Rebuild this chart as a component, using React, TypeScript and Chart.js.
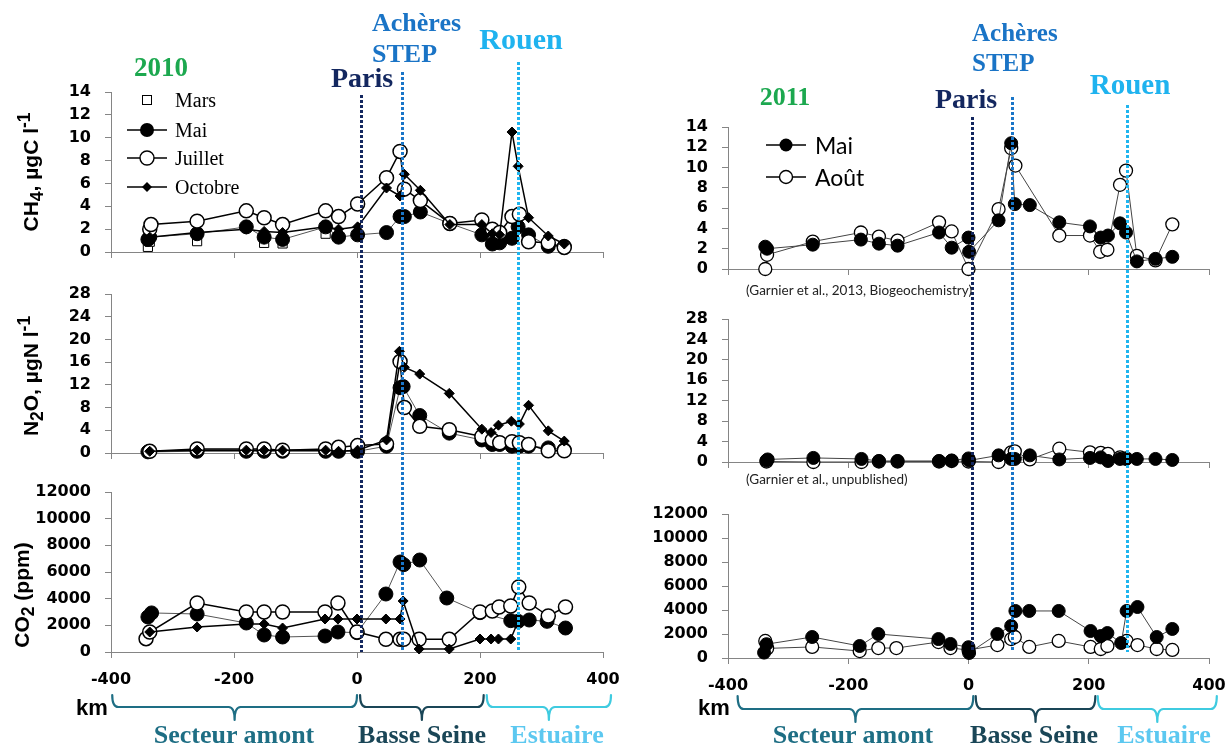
import React, { useEffect, useRef } from 'react';
import { Chart, registerables } from 'chart.js';

Chart.register(...registerables);

type Pt = [number, number];

// ---------------- 2010 (km, value) ----------------
const ch4_2010_mars: Pt[] = [[-340, 0.45], [-337, 0.9], [-260, 0.95], [-151, 0.8], [-121, 0.75], [-51, 1.6]];
const ch4_2010_mai: Pt[] = [[-340, 1.1], [-337, 1.3], [-260, 1.6], [-180, 2.2], [-151, 1.3], [-121, 1.1], [-51, 2.2], [-30, 1.3], [1, 1.5], [48, 1.7], [70, 3.1], [77, 3.1], [103, 3.5], [151, 2.5], [203, 1.5], [220, 0.7], [232, 0.8], [252, 1.2], [262, 2.2], [279, 1.5], [311, 0.5], [337, 0.5]];
const ch4_2010_juillet: Pt[] = [[-337, 2.0], [-335, 2.4], [-260, 2.7], [-180, 3.6], [-151, 3.0], [-121, 2.4], [-51, 3.6], [-30, 3.1], [1, 4.2], [48, 6.5], [70, 8.8], [77, 5.5], [103, 4.5], [151, 2.5], [203, 2.8], [220, 2.0], [232, 1.7], [252, 3.1], [264, 3.3], [279, 0.9], [311, 0.8], [337, 0.4]];
const ch4_2010_octobre: Pt[] = [[-337, 1.3], [-260, 1.7], [-180, 2.0], [-151, 1.8], [-121, 1.7], [-51, 2.2], [-30, 2.0], [1, 2.2], [48, 5.6], [70, 4.9], [77, 6.8], [103, 5.4], [151, 2.4], [203, 2.4], [220, 1.6], [232, 1.5], [252, 10.5], [262, 7.5], [279, 3.0], [311, 1.4], [337, 0.7]];

const n2o_2010_mai: Pt[] = [[-340, 0.2], [-260, 0.3], [-180, 0.3], [-151, 0.3], [-121, 0.3], [-51, 0.3], [-30, 0.3], [1, 0.3], [48, 1.2], [70, 11.5], [75, 11.7], [102, 6.6], [150, 3.5], [203, 2.3], [220, 1.5], [232, 1.5], [252, 1.2], [264, 1.2], [279, 1.2], [311, 0.9], [337, 0.6]];
const n2o_2010_juillet: Pt[] = [[-337, 0.3], [-260, 0.7], [-180, 0.7], [-151, 0.7], [-121, 0.5], [-51, 0.7], [-30, 1.0], [1, 1.3], [48, 1.6], [70, 16.1], [77, 8.0], [102, 4.7], [150, 4.1], [203, 2.9], [220, 2.3], [232, 1.8], [252, 2.0], [264, 1.8], [279, 1.5], [311, 0.4], [337, 0.4]];
const n2o_2010_octobre: Pt[] = [[-337, 0.3], [-260, 0.5], [-180, 0.5], [-151, 0.5], [-121, 0.5], [-51, 0.5], [-30, 0.3], [1, 0.5], [48, 2.3], [69, 17.9], [77, 15.1], [102, 13.9], [150, 10.5], [203, 4.2], [218, 3.6], [230, 4.9], [251, 5.6], [264, 5.1], [279, 8.4], [311, 3.9], [337, 2.1]];

const co2_2010_mai: Pt[] = [[-340, 2630], [-334, 2930], [-260, 2850], [-180, 2175], [-151, 1275], [-121, 1125], [-52, 1200], [-31, 1500], [0, 1450], [47, 4350], [70, 6750], [76, 6550], [102, 6900], [146, 4050], [200, 2950], [250, 2350], [262, 2300], [280, 2400], [309, 2300], [339, 1800]];
const co2_2010_juillet: Pt[] = [[-343, 1000], [-337, 1500], [-260, 3675], [-180, 3000], [-151, 3000], [-121, 3000], [-52, 3000], [-31, 3675], [0, 1500], [47, 950], [70, 950], [76, 950], [101, 950], [150, 950], [200, 3000], [220, 3075], [231, 3375], [250, 3450], [263, 4875], [280, 3675], [311, 2700], [339, 3375]];
const co2_2010_octobre: Pt[] = [[-337, 1500], [-260, 1875], [-180, 2100], [-151, 2100], [-121, 1800], [-52, 2475], [-31, 2475], [0, 2475], [47, 2475], [70, 2475], [75, 3825], [101, 225], [150, 225], [200, 975], [218, 975], [230, 975], [250, 975], [262, 2300]];

// ---------------- 2011 (km, value) ----------------
const ch4_2011_mai: Pt[] = [[-338, 2.2], [-335, 2.0], [-259, 2.4], [-179, 2.9], [-149, 2.5], [-118, 2.3], [-49, 3.6], [-28, 2.1], [0, 3.1], [1, 1.7], [50, 4.8], [71, 12.4], [77, 6.4], [102, 6.3], [151, 4.6], [202, 4.2], [220, 3.1], [232, 3.3], [252, 4.5], [262, 3.6], [280, 0.75], [311, 1.0], [339, 1.2]];
const ch4_2011_aout: Pt[] = [[-338, 0], [-335, 1.4], [-259, 2.7], [-179, 3.6], [-149, 3.2], [-118, 2.8], [-49, 4.6], [-28, 3.7], [0, 0], [50, 5.9], [71, 11.9], [78, 10.2], [151, 3.3], [202, 3.3], [219, 1.7], [231, 1.9], [252, 8.3], [262, 9.7], [280, 1.3], [311, 0.85], [339, 4.4]];

const n2o_2011_mai: Pt[] = [[-336, 0.3], [-334, 0.5], [-258, 0.8], [-178, 0.6], [-149, 0.2], [-118, 0.2], [-49, 0.2], [-28, 0.3], [0, 0.7], [1, 0.3], [50, 1.3], [71, 0.6], [77, 0.6], [102, 1.3], [151, 0.5], [202, 0.8], [220, 0.9], [232, 0.2], [252, 0.6], [262, 0.6], [280, 0.6], [311, 0.6], [339, 0.4]];
const n2o_2011_aout: Pt[] = [[-336, 0.1], [-258, 0], [-178, 0], [-149, 0.1], [-118, 0.1], [-49, 0.1], [-28, 0.2], [0, 0.1], [50, 0], [71, 1.9], [77, 2.1], [102, 0.5], [151, 2.6], [202, 1.9], [220, 1.8], [232, 1.6], [252, 0.9], [262, 0.7]];

const co2_2011_mai: Pt[] = [[-340, 450], [-336, 1150], [-260, 1750], [-181, 1000], [-150, 2000], [-50, 1580], [-30, 1170], [0, 900], [1, 420], [48, 2000], [71, 2670], [78, 3920], [101, 3920], [150, 3920], [203, 2250], [220, 1830], [231, 2080], [254, 1250], [263, 3920], [281, 4250], [313, 1750], [339, 2420]];
const co2_2011_aout: Pt[] = [[-338, 1420], [-335, 800], [-260, 920], [-181, 580], [-150, 830], [-120, 830], [-50, 1330], [-30, 830], [0, 670], [48, 1080], [71, 1580], [77, 1750], [101, 920], [150, 1420], [203, 920], [220, 750], [231, 1000], [263, 1420], [281, 1080], [313, 750], [339, 670]];

// ---------------- axes / annotations ----------------
const xRange = { min: -400, max: 400, step: 200 };
const ch4Axis = { max: 14, step: 2 };
const n2oAxis = { max: 28, step: 4 };
const co2Axis = { max: 12000, step: 2000 };

const siteKm2010 = [7, 73, 262]; // Paris, Achères STEP, Rouen
const siteKm2011 = [5, 72, 263];
const sectors2010: Pt[] = [[-398, 0], [5, 206], [211, 413]];
const sectors2011: Pt[] = [[-384, 8], [12, 211], [215, 413]];

const SITE_COLORS = ['#13275f', '#1a76c8', '#1fb5ef'];
const SECTOR_COLORS = ['#1e6e84', '#1a4657', '#3fcbe0'];
const AXIS_COLOR = '#858585';

const xy = (pts: Pt[]) => pts.map(([x, y]) => ({ x, y }));

const base = { showLine: true, clip: false as any };
const sJuillet = { ...base, borderColor: '#000', borderWidth: 1.5, pointStyle: 'circle', pointRadius: 7, pointBackgroundColor: '#fff', pointBorderColor: '#000', pointBorderWidth: 1.5 };
const sMai = { ...base, borderColor: '#555', borderWidth: 1, pointStyle: 'circle', pointRadius: 7, pointBackgroundColor: '#000', pointBorderColor: '#000', pointBorderWidth: 1 };
const sOct = { ...base, borderColor: '#000', borderWidth: 1.5, pointStyle: 'rectRot', pointRadius: 5, pointBackgroundColor: '#000', pointBorderColor: '#000', pointBorderWidth: 1 };
const sMars = { showLine: false, clip: false as any, pointStyle: 'rect', pointRadius: 6.5, pointBackgroundColor: '#fff', pointBorderColor: '#000', pointBorderWidth: 1 };
const sMai11 = { ...base, borderColor: '#444', borderWidth: 1, pointStyle: 'circle', pointRadius: 6.5, pointBackgroundColor: '#000', pointBorderColor: '#000', pointBorderWidth: 1 };
const sAout = { ...base, borderColor: '#444', borderWidth: 1, pointStyle: 'circle', pointRadius: 6.5, pointBackgroundColor: '#fff', pointBorderColor: '#000', pointBorderWidth: 1.3 };

const tickFont = { family: 'DejaVu Sans', weight: 'bold' as any, size: 16 };
const YW = 100;
const XH = 40;
const H = 744;

function sitePlugin(kms: number[], tops: number[], bottom: number, sectors: Pt[], brace: { top: number; mid: number; tip: number }) {
  return {
    id: 'sitesAndSectors',
    afterDraw(chart: any) {
      const xs = chart.scales.x;
      const ctx = chart.ctx as CanvasRenderingContext2D;
      ctx.save();
      kms.forEach((km, i) => {
        const px = Math.round(xs.getPixelForValue(km)) + 0.5;
        ctx.strokeStyle = SITE_COLORS[i];
        ctx.lineWidth = 3;
        ctx.setLineDash([3, 2]);
        ctx.beginPath();
        ctx.moveTo(px, tops[i]);
        ctx.lineTo(px, bottom);
        ctx.stroke();
      });
      ctx.setLineDash([]);
      ctx.lineWidth = 2.2;
      ctx.lineJoin = 'round';
      ctx.lineCap = 'round';
      sectors.forEach(([a, b], i) => {
        const x1 = xs.getPixelForValue(a);
        const x2 = xs.getPixelForValue(b);
        const xc = (x1 + x2) / 2;
        const r = 6;
        ctx.strokeStyle = SECTOR_COLORS[i];
        ctx.beginPath();
        ctx.moveTo(x1, brace.top);
        ctx.quadraticCurveTo(x1, brace.mid, x1 + r, brace.mid);
        ctx.lineTo(xc - r, brace.mid);
        ctx.quadraticCurveTo(xc, brace.mid, xc, brace.tip);
        ctx.moveTo(xc, brace.tip);
        ctx.quadraticCurveTo(xc, brace.mid, xc + r, brace.mid);
        ctx.lineTo(x2 - r, brace.mid);
        ctx.quadraticCurveTo(x2, brace.mid, x2, brace.top);
        ctx.stroke();
      });
      ctx.restore();
    },
  };
}

type PanelProps = {
  left: number;
  width: number;
  area: { l: number; r: number; t: number; b: number };
  axis: { max: number; step: number };
  datasets: any[];
  xLabels: boolean;
  overlay?: any;
};

function Panel({ left, width, area, axis, datasets, xLabels, overlay }: PanelProps) {
  const ref = useRef<HTMLCanvasElement>(null);
  useEffect(() => {
    const grid = { drawOnChartArea: false, drawTicks: true, tickLength: 6, color: AXIS_COLOR, lineWidth: 1 };
    const border = { display: true, color: AXIS_COLOR, width: 1 };
    const chart = new Chart(ref.current as HTMLCanvasElement, {
      type: 'scatter',
      data: { datasets },
      options: {
        responsive: false,
        animation: false,
        devicePixelRatio: 1,
        events: [],
        layout: {
          padding: {
            left: area.l - left - YW,
            right: left + width - area.r,
            top: area.t,
            bottom: H - area.b - XH,
          },
        },
        plugins: { legend: { display: false }, tooltip: { enabled: false } },
        scales: {
          x: {
            type: 'linear',
            min: xRange.min,
            max: xRange.max,
            ticks: {
              stepSize: xRange.step,
              display: xLabels,
              padding: 12,
              color: '#000',
              font: tickFont,
              maxRotation: 0,
              autoSkip: false,
              callback: (v: any) => String(v),
            },
            grid,
            border,
            afterFit: (s: any) => {
              s.height = XH;
              s.paddingLeft = 0;
              s.paddingRight = 0;
            },
          },
          y: {
            type: 'linear',
            min: 0,
            max: axis.max,
            ticks: {
              stepSize: axis.step,
              padding: 14,
              color: '#000',
              font: tickFont,
              autoSkip: false,
              callback: (v: any) => String(v),
            },
            grid,
            border,
            afterFit: (s: any) => {
              s.width = YW;
              s.paddingTop = 0;
              s.paddingBottom = 0;
            },
          },
        },
      } as any,
      plugins: overlay ? [overlay] : [],
    });
    return () => chart.destroy();
  }, []);
  return (
    <canvas
      ref={ref}
      width={width}
      height={H}
      style={{ position: 'absolute', left, top: 0, width, height: H }}
    />
  );
}

function Txt({ x, y, children, style, anchor = 'center' }: any) {
  const tr = anchor === 'center' ? 'translate(-50%,-50%)' : 'translate(0,-50%)';
  return (
    <div style={{ position: 'absolute', left: x, top: y, transform: tr, whiteSpace: 'nowrap', lineHeight: 1, ...style }}>
      {children}
    </div>
  );
}

function VTxt({ x, y, children, style }: any) {
  return (
    <div style={{ position: 'absolute', left: x, top: y, transform: 'translate(-50%,-50%) rotate(-90deg)', whiteSpace: 'nowrap', lineHeight: 1, ...style }}>
      {children}
    </div>
  );
}

const serifB = { fontFamily: '"Liberation Serif", serif', fontWeight: 'bold' };
const sansB = { fontFamily: '"Liberation Sans", Arial, sans-serif', fontWeight: 'bold', color: '#000' };

function LegendMarker({ x, y, kind, line, r }: any) {
  return (
    <svg style={{ position: 'absolute', left: x - 25, top: y - 12, overflow: 'visible' }} width={50} height={24}>
      {line && <line x1={5} y1={12} x2={45} y2={12} stroke="#000" strokeWidth={1.3} />}
      {kind === 'filled' && <circle cx={25} cy={12} r={r} fill="#000" />}
      {kind === 'open' && <circle cx={25} cy={12} r={r} fill="#fff" stroke="#000" strokeWidth={1.4} />}
      {kind === 'square' && <rect x={20.5} y={7.5} width={9} height={9} fill="#fff" stroke="#000" strokeWidth={1} />}
      {kind === 'diamond' && <polygon points="25,7 30,12 25,17 20,12" fill="#000" />}
    </svg>
  );
}

export default function App() {
  const L = { left: 0, width: 650 };
  const R = { left: 600, width: 627 };
  const lx = { l: 111, r: 603 };
  const rx = { l: 728, r: 1209 };

  const ds2010 = (mai: Pt[], juil: Pt[], oct: Pt[], mars?: Pt[]) => {
    const arr: any[] = [
      { label: 'Octobre', data: xy(oct), ...sOct },
      { label: 'Juillet', data: xy(juil), ...sJuillet },
      { label: 'Mai', data: xy(mai), ...sMai },
    ];
    if (mars) arr.push({ label: 'Mars', data: xy(mars), ...sMars });
    return arr;
  };
  const ds2011 = (mai: Pt[], aout: Pt[]) => [
    { label: 'Mai', data: xy(mai), ...sMai11 },
    { label: 'Août', data: xy(aout), ...sAout },
  ];

  const siteColor = SITE_COLORS;

  return (
    <div style={{ position: 'absolute', left: 0, top: 0, width: 1227, height: 744, overflow: 'hidden', background: '#fff' }}>
      {/* 2010 column */}
      <Panel {...L} area={{ ...lx, t: 92, b: 252 }} axis={ch4Axis} xLabels={false}
        datasets={ds2010(ch4_2010_mai, ch4_2010_juillet, ch4_2010_octobre, ch4_2010_mars)} />
      <Panel {...L} area={{ ...lx, t: 294, b: 453 }} axis={n2oAxis} xLabels={false}
        datasets={ds2010(n2o_2010_mai, n2o_2010_juillet, n2o_2010_octobre)} />
      <Panel {...L} area={{ ...lx, t: 492, b: 652 }} axis={co2Axis} xLabels={true}
        datasets={ds2010(co2_2010_mai, co2_2010_juillet, co2_2010_octobre)}
        overlay={sitePlugin(siteKm2010, [95, 72, 62], 652, sectors2010, { top: 695, mid: 707, tip: 720 })} />

      {/* 2011 column */}
      <Panel {...R} area={{ ...rx, t: 127, b: 269 }} axis={ch4Axis} xLabels={false}
        datasets={ds2011(ch4_2011_mai, ch4_2011_aout)} />
      <Panel {...R} area={{ ...rx, t: 319, b: 462 }} axis={n2oAxis} xLabels={false}
        datasets={ds2011(n2o_2011_mai, n2o_2011_aout)} />
      <Panel {...R} area={{ ...rx, t: 514, b: 658 }} axis={co2Axis} xLabels={true}
        datasets={ds2011(co2_2011_mai, co2_2011_aout)}
        overlay={sitePlugin(siteKm2011, [117, 97, 105], 652, sectors2011, { top: 696, mid: 709, tip: 722 })} />

      {/* titles 2010 */}
      <Txt x={161} y={67} style={{ ...serifB, fontSize: 27, color: '#1ca84f' }}>2010</Txt>
      <Txt x={362} y={78} style={{ ...serifB, fontSize: 28, color: siteColor[0] }}>Paris</Txt>
      <Txt x={372} y={23} anchor="left" style={{ ...serifB, fontSize: 26, color: '#1a74c6' }}>Achères</Txt>
      <Txt x={372} y={54} anchor="left" style={{ ...serifB, fontSize: 26, color: '#1a74c6' }}>STEP</Txt>
      <Txt x={521} y={39} style={{ ...serifB, fontSize: 30, color: '#1fb3ef' }}>Rouen</Txt>

      {/* titles 2011 */}
      <Txt x={785} y={97} style={{ ...serifB, fontSize: 26, color: '#1ca84f' }}>2011</Txt>
      <Txt x={966} y={99} style={{ ...serifB, fontSize: 28, color: siteColor[0] }}>Paris</Txt>
      <Txt x={972} y={32} anchor="left" style={{ ...serifB, fontSize: 25, color: '#1a74c6' }}>Achères</Txt>
      <Txt x={972} y={62} anchor="left" style={{ ...serifB, fontSize: 25, color: '#1a74c6' }}>STEP</Txt>
      <Txt x={1130} y={84} style={{ ...serifB, fontSize: 29, color: '#1fb3ef' }}>Rouen</Txt>

      {/* y axis titles */}
      <VTxt x={31} y={172} style={{ ...sansB, fontSize: 21 }}>CH<sub>4</sub>, µgC l<sup>-1</sup></VTxt>
      <VTxt x={31} y={376} style={{ ...sansB, fontSize: 21 }}>N<sub>2</sub>O, µgN l<sup>-1</sup></VTxt>
      <VTxt x={24} y={595} style={{ ...sansB, fontSize: 21 }}>CO<sub>2</sub> (ppm)</VTxt>

      {/* legend 2010 */}
      <LegendMarker x={147} y={100} kind="square" line={false} r={7} />
      <LegendMarker x={147} y={130} kind="filled" line={true} r={7} />
      <LegendMarker x={147} y={158} kind="open" line={true} r={7} />
      <LegendMarker x={147} y={187} kind="diamond" line={true} r={5} />
      <Txt x={175} y={100} anchor="left" style={{ fontFamily: '"Liberation Serif", serif', fontSize: 20 }}>Mars</Txt>
      <Txt x={175} y={130} anchor="left" style={{ fontFamily: '"Liberation Serif", serif', fontSize: 20 }}>Mai</Txt>
      <Txt x={175} y={158} anchor="left" style={{ fontFamily: '"Liberation Serif", serif', fontSize: 20 }}>Juillet</Txt>
      <Txt x={175} y={187} anchor="left" style={{ fontFamily: '"Liberation Serif", serif', fontSize: 20 }}>Octobre</Txt>

      {/* legend 2011 */}
      <LegendMarker x={786} y={145} kind="filled" line={true} r={6.5} />
      <LegendMarker x={786} y={177} kind="open" line={true} r={6.5} />
      <Txt x={815} y={145} anchor="left" style={{ fontFamily: 'Lato, sans-serif', fontSize: 23 }}>Mai</Txt>
      <Txt x={815} y={177} anchor="left" style={{ fontFamily: 'Lato, sans-serif', fontSize: 23 }}>Août</Txt>

      {/* citations */}
      <Txt x={746} y={291} anchor="left" style={{ fontFamily: 'Lato, sans-serif', fontSize: 13.5, color: '#222' }}>(Garnier et al., 2013, Biogeochemistry)</Txt>
      <Txt x={746} y={480} anchor="left" style={{ fontFamily: 'Lato, sans-serif', fontSize: 13.5, color: '#222' }}>(Garnier et al., unpublished)</Txt>

      {/* km labels */}
      <Txt x={76} y={708} anchor="left" style={{ ...sansB, fontSize: 22 }}>km</Txt>
      <Txt x={698} y={708} anchor="left" style={{ ...sansB, fontSize: 22 }}>km</Txt>

      {/* sector labels */}
      <Txt x={234} y={735} style={{ ...serifB, fontSize: 26, color: SECTOR_COLORS[0] }}>Secteur amont</Txt>
      <Txt x={422} y={735} style={{ ...serifB, fontSize: 26, color: SECTOR_COLORS[1] }}>Basse Seine</Txt>
      <Txt x={557} y={735} style={{ ...serifB, fontSize: 26, color: '#5cc8f0' }}>Estuaire</Txt>
      <Txt x={853} y={735} style={{ ...serifB, fontSize: 26, color: SECTOR_COLORS[0] }}>Secteur amont</Txt>
      <Txt x={1034} y={735} style={{ ...serifB, fontSize: 26, color: SECTOR_COLORS[1] }}>Basse Seine</Txt>
      <Txt x={1164} y={735} style={{ ...serifB, fontSize: 26, color: '#5cc8f0' }}>Estuaire</Txt>
    </div>
  );
}
